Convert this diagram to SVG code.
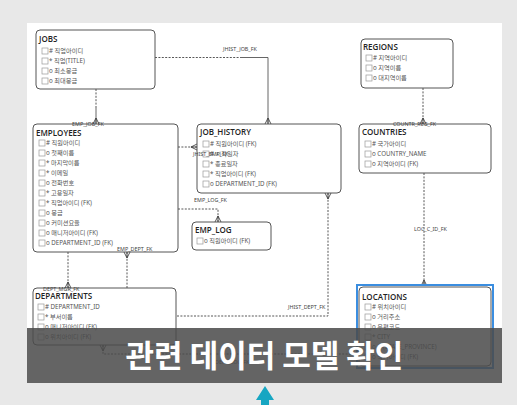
<svg xmlns="http://www.w3.org/2000/svg" xmlns:xlink="http://www.w3.org/1999/xlink" width="517" height="405" viewBox="0 0 517 405">
<style>
.box{fill:#fff;stroke:#555;stroke-width:1}
.title{font-family:"Open Sans","Noto Sans",sans-serif;font-weight:600;font-size:8px;fill:#222}
.row{font-family:"Noto Sans","Noto Sans CJK KR",sans-serif;font-size:6.2px;fill:#555}
.cb{fill:#fff;stroke:#999;stroke-width:0.7}
.conn{fill:none;stroke:#444;stroke-width:0.9;stroke-dasharray:2 1.4}
.solid{fill:none;stroke:#555;stroke-width:0.9}
.lbl{font-family:"Noto Sans",sans-serif;font-size:5.4px;fill:#444}
.cf{fill:none;stroke:#444;stroke-width:0.9}
.ov{font-family:"Noto Sans CJK KR","Noto Sans",sans-serif;font-weight:700;font-size:31px;fill:#fff}
</style>
<defs>
<path id="cf" class="cf" d="M-3,0 L0,-6 L3,0 M0,-6 V0"/>
<rect id="cbx" class="cb" width="6" height="6"/>
</defs>
<rect width="517" height="405" fill="#e8e8e8"/>
<rect x="27" y="23" width="475" height="360" fill="#fff"/>

<g id="connectors">
<path class="conn" d="M96,89 V108"/><path class="solid" d="M96,108 V124"/>
<use xlink:href="#cf" transform="translate(96,124)"/>
<path class="conn" d="M155,57.5 H240"/><path class="solid" d="M240,57.5 H268 V124"/>
<use xlink:href="#cf" transform="translate(268,124)"/>
<path class="conn" d="M423,88 V124"/>
<use xlink:href="#cf" transform="translate(423,124)"/>
<path class="conn" d="M178,147 H197"/>
<use xlink:href="#cf" transform="translate(197,147) rotate(-90)"/>
<path class="conn" d="M178,209 H218 V222"/>
<use xlink:href="#cf" transform="translate(218,222)"/>
<path class="conn" d="M328,193 V316 H176"/>
<use xlink:href="#cf" transform="translate(328,193) rotate(180)"/>
<path class="conn" d="M127,252 V288"/>
<use xlink:href="#cf" transform="translate(127,252) rotate(180)"/>
<path class="conn" d="M68,252 V288"/>
<use xlink:href="#cf" transform="translate(68,288)"/>
<path class="conn" d="M103,345 V354 H358"/>
<use xlink:href="#cf" transform="translate(103,345) rotate(180)"/>
<path class="conn" d="M424,173 V286"/>
<use xlink:href="#cf" transform="translate(424,286)"/>
</g>

<g id="jobs">
<rect class="box" x="36" y="30" width="119" height="59" rx="4"/>
<text class="title" x="39" y="42">JOBS</text>
<use xlink:href="#cbx" x="42" y="48"/><text class="row" x="49" y="53.2"># 직업아이디</text>
<use xlink:href="#cbx" x="42" y="58"/><text class="row" x="49" y="63.2">* 직업(TITLE)</text>
<use xlink:href="#cbx" x="42" y="68"/><text class="row" x="49" y="73.2">o 최소봉급</text>
<use xlink:href="#cbx" x="42" y="78"/><text class="row" x="49" y="83.2">o 최대봉급</text>
</g>

<g id="regions">
<rect class="box" x="361" y="39" width="92" height="49" rx="4"/>
<text class="title" x="363" y="50">REGIONS</text>
<use xlink:href="#cbx" x="366" y="55"/><text class="row" x="373" y="60.2"># 지역아이디</text>
<use xlink:href="#cbx" x="366" y="65"/><text class="row" x="373" y="70.2">o 지역이름</text>
<use xlink:href="#cbx" x="366" y="75"/><text class="row" x="373" y="80.2">o 대지역이름</text>
</g>

<g id="employees">
<rect class="box" x="33" y="124" width="145" height="128" rx="4"/>
<text class="title" x="36" y="136">EMPLOYEES</text>
<use xlink:href="#cbx" x="39" y="140"/><text class="row" x="46" y="145.2"># 직원아이디</text>
<use xlink:href="#cbx" x="39" y="150"/><text class="row" x="46" y="155.2">o 첫째이름</text>
<use xlink:href="#cbx" x="39" y="160"/><text class="row" x="46" y="165.2">* 마지막이름</text>
<use xlink:href="#cbx" x="39" y="170"/><text class="row" x="46" y="175.2">* 이메일</text>
<use xlink:href="#cbx" x="39" y="180"/><text class="row" x="46" y="185.2">o 전화번호</text>
<use xlink:href="#cbx" x="39" y="190"/><text class="row" x="46" y="195.2">* 고용일자</text>
<use xlink:href="#cbx" x="39" y="200"/><text class="row" x="46" y="205.2">* 직업아이디 (FK)</text>
<use xlink:href="#cbx" x="39" y="210"/><text class="row" x="46" y="215.2">o 봉급</text>
<use xlink:href="#cbx" x="39" y="220"/><text class="row" x="46" y="225.2">o 커미션요율</text>
<use xlink:href="#cbx" x="39" y="230"/><text class="row" x="46" y="235.2">o 매니저아이디 (FK)</text>
<use xlink:href="#cbx" x="39" y="240"/><text class="row" x="46" y="245.2">o DEPARTMENT_ID (FK)</text>
</g>

<g id="job_history">
<rect class="box" x="197" y="124" width="144" height="69" rx="4"/>
<text class="title" x="200" y="135">JOB_HISTORY</text>
<use xlink:href="#cbx" x="203" y="141"/><text class="row" x="210" y="146.2"># 직원아이디 (FK)</text>
<use xlink:href="#cbx" x="203" y="151"/><text class="row" x="210" y="156.2"># 시작일자</text>
<use xlink:href="#cbx" x="203" y="161"/><text class="row" x="210" y="166.2">* 종료일자</text>
<use xlink:href="#cbx" x="203" y="171"/><text class="row" x="210" y="176.2">* 직업아이디 (FK)</text>
<use xlink:href="#cbx" x="203" y="181"/><text class="row" x="210" y="186.2">o DEPARTMENT_ID (FK)</text>
</g>

<g id="countries">
<rect class="box" x="359" y="124" width="132" height="49" rx="4"/>
<text class="title" x="362" y="135">COUNTRIES</text>
<use xlink:href="#cbx" x="365" y="141"/><text class="row" x="372" y="146.2"># 국가아이디</text>
<use xlink:href="#cbx" x="365" y="151"/><text class="row" x="372" y="156.2">o COUNTRY_NAME</text>
<use xlink:href="#cbx" x="365" y="161"/><text class="row" x="372" y="166.2">o 지역아이디 (FK)</text>
</g>

<g id="emp_log">
<rect class="box" x="192" y="222" width="79" height="28" rx="4"/>
<text class="title" x="195" y="233">EMP_LOG</text>
<use xlink:href="#cbx" x="197" y="238"/><text class="row" x="204" y="243.2">o 직원아이디 (FK)</text>
</g>

<g id="departments">
<rect class="box" x="33" y="288" width="143" height="57" rx="4"/>
<text class="title" x="35" y="299">DEPARTMENTS</text>
<use xlink:href="#cbx" x="38" y="304"/><text class="row" x="45" y="309.2"># DEPARTMENT_ID</text>
<use xlink:href="#cbx" x="38" y="314"/><text class="row" x="45" y="319.2">* 부서이름</text>
<use xlink:href="#cbx" x="38" y="324"/><text class="row" x="45" y="329.2">o 매니저아이디 (FK)</text>
<use xlink:href="#cbx" x="38" y="334"/><text class="row" x="45" y="339.2">o 위치아이디 (FK)</text>
</g>

<g id="locations">
<rect x="357" y="285" width="136" height="83" fill="none" stroke="#3b8ee0" stroke-width="2"/>
<rect class="box" x="359" y="287" width="132" height="79" rx="4"/>
<text class="title" x="362" y="300">LOCATIONS</text>
<use xlink:href="#cbx" x="365" y="304"/><text class="row" x="372" y="309.2"># 위치아이디</text>
<use xlink:href="#cbx" x="365" y="314"/><text class="row" x="372" y="319.2">o 거리주소</text>
<use xlink:href="#cbx" x="365" y="324"/><text class="row" x="372" y="329.2">o 우편코드</text>
<use xlink:href="#cbx" x="365" y="334"/><text class="row" x="372" y="339.2">* CITY</text>
<use xlink:href="#cbx" x="365" y="344"/><text class="row" x="372" y="349.2">o 주(STATE_PROVINCE)</text>
<use xlink:href="#cbx" x="365" y="354"/><text class="row" x="372" y="359.2">o 국가아이디 (FK)</text>
</g>

<g id="connector-labels">
<text class="lbl" x="72" y="126">EMP_JOB_FK</text>
<text class="lbl" x="223" y="51">JHIST_JOB_FK</text>
<text class="lbl" x="393" y="126">COUNTR_REG_FK</text>
<text class="lbl" x="193" y="156">JHIST_EMP_FK</text>
<text class="lbl" x="194" y="202">EMP_LOG_FK</text>
<text class="lbl" x="288" y="309">JHIST_DEPT_FK</text>
<text class="lbl" x="117" y="251">EMP_DEPT_FK</text>
<text class="lbl" x="43" y="291">DEPT_MGR_FK</text>
<text class="lbl" x="215" y="364">DEPT_LOC_FK</text>
<text class="lbl" x="414" y="231">LOC_C_ID_FK</text>
</g>

<g id="overlay">
<rect x="27" y="328" width="475" height="55" fill="#4a4a4a" opacity="0.86"/>
<text class="ov" x="264.5" y="367" text-anchor="middle">관련 데이터 모델 확인</text>
</g>
<g id="pointer">
<path d="M265,386 L274,400 H269 V405 H261 V400 H256 Z" fill="#17a6c2"/>
</g>
</svg>
